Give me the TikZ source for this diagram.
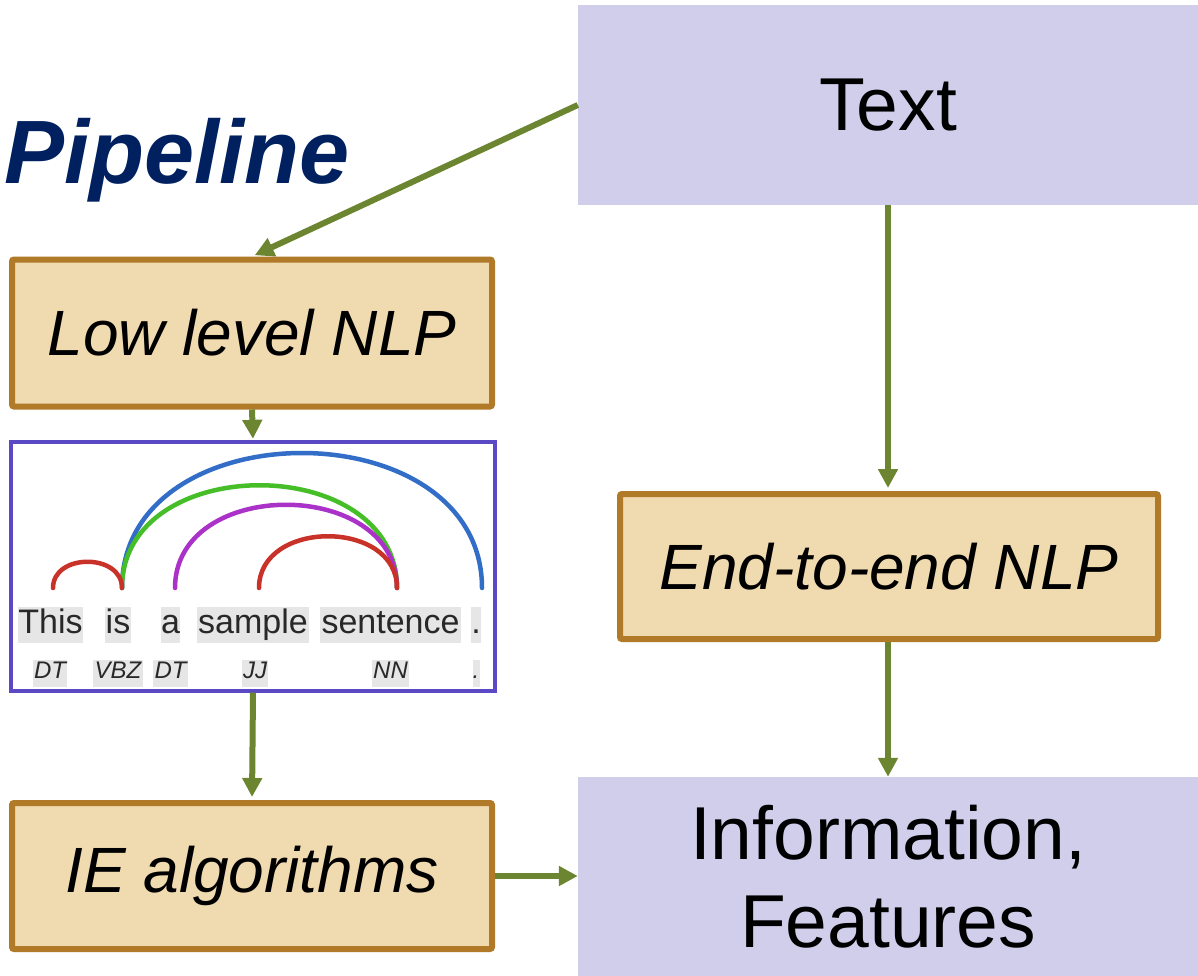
\documentclass[tikz,border=0pt]{standalone}
\usepackage{fontspec}
\setmainfont{Liberation Sans}
\usetikzlibrary{arrows.meta}
\definecolor{flow}{RGB}{107,133,48}
\definecolor{wheat}{RGB}{240,218,176}
\definecolor{bronze}{RGB}{176,122,40}
\definecolor{lav}{RGB}{209,206,236}
\definecolor{navy}{RGB}{0,32,96}
\definecolor{frame}{RGB}{90,72,196}
\definecolor{arcred}{RGB}{200,50,40}
\definecolor{arcblue}{RGB}{50,110,200}
\definecolor{arcgreen}{RGB}{70,190,40}
\definecolor{arcpurple}{RGB}{170,50,200}
\definecolor{wordbg}{RGB}{230,230,230}
\definecolor{ink}{RGB}{40,40,40}
\tikzset{
  stage/.style={draw=bronze, fill=wheat, line width=6pt, rounded corners=2pt,
    inner sep=0pt, font=\fontsize{64}{70}\selectfont\itshape},
  data/.style={fill=lav, inner sep=0pt, align=center,
    font=\fontsize{75}{88}\selectfont},
  flowline/.style={draw=flow, line width=6pt, -{Triangle[length=19pt,width=19pt]}},
  toborder/.style={shorten >=3pt},
  word/.style={fill=wordbg, inner sep=0pt, text height=26pt, text depth=10pt, text=ink,
    font=\fontsize{34}{34}\selectfont},
  tag/.style={fill=wordbg, inner sep=0pt, text height=18pt, text depth=9pt, text=ink,
    font=\fontsize{24}{24}\selectfont\itshape},
  deparc/.style={line width=4.5pt, line cap=round},
}
\begin{document}
\begin{tikzpicture}[x=1pt, y=-1pt]
\useasboundingbox (0,0) rectangle (1198,976);

% title fragment
\node[anchor=base east, inner sep=0pt, text=navy,
  font=\fontsize{90}{96}\selectfont\bfseries\itshape] (title) at (350,184) {Pipeline};

% data boxes
\node[data, minimum width=620pt, minimum height=200pt] (text) at (888,105) {Text};
\node[data, minimum width=620pt, minimum height=200pt] (info) at (888,877) {Information,\\Features};

% processing stages
\node[stage, minimum width=480pt, minimum height=147pt] (low) at (252,333) {Low level NLP};
\node[stage, minimum width=538pt, minimum height=145pt] (e2e) at (889,566.5) {End-to-end NLP};
\node[stage, minimum width=480pt, minimum height=146pt] (ie) at (252,876) {IE algorithms};

% parse panel
\node[draw=frame, fill=white, line width=3.3pt, minimum width=484pt, minimum height=249pt,
  inner sep=0pt] (parse) at (253,566.5) {};

% words of the sentence
\node[word, minimum width=65pt] (w1) at (50.5,625) {This};
\node[word, minimum width=26pt] (w2) at (118,625) {is};
\node[word, minimum width=19pt] (w3) at (170.5,625) {a};
\node[word, minimum width=112pt] (w4) at (253,625) {sample};
\node[word, minimum width=141pt] (w5) at (390.5,625) {sentence};
\node[word, minimum width=8pt] (w6) at (476,625) {.};

% part-of-speech tags
\node[tag, minimum width=34pt] (t1) at (50,673.5) {DT};
\node[tag, minimum width=50pt] (t2) at (118,673.5) {VBZ};
\node[tag, minimum width=35pt] (t3) at (170.5,673.5) {DT};
\node[tag, minimum width=26pt] (t4) at (255,673.5) {JJ};
\node[tag, minimum width=37pt] (t5) at (390.5,673.5) {NN};
\node[tag, minimum width=7pt] (t6) at (476,673.5) {.};

% dependency arcs
\draw[deparc, arcblue] (122,588) .. controls (122,408) and (482,408) .. (482,588);
\draw[deparc, arcgreen] (122,588) .. controls (122,451) and (397,451) .. (397,588);
\draw[deparc, arcpurple] (175,588) .. controls (175,477) and (397,477) .. (397,588);
\draw[deparc, arcred] (259,588) .. controls (259,519) and (397,519) .. (397,588);
\draw[deparc, arcred] (53,588) .. controls (53,553) and (122,553) .. (122,588);

% flow
\draw[flowline, toborder] (text.west) -- (low.north);
\draw[flowline, shorten >=1.5pt] (low.south) -- (parse.north);
\draw[flowline, toborder] (parse.south) -- (ie.north);
\draw[flowline, toborder] (text.south) -- (e2e.north -| text.south);
\draw[flowline] (e2e.south -| info.north) -- (info.north);
\draw[flowline] (ie.east) -- (info.west |- ie.east);
\end{tikzpicture}
\end{document}
